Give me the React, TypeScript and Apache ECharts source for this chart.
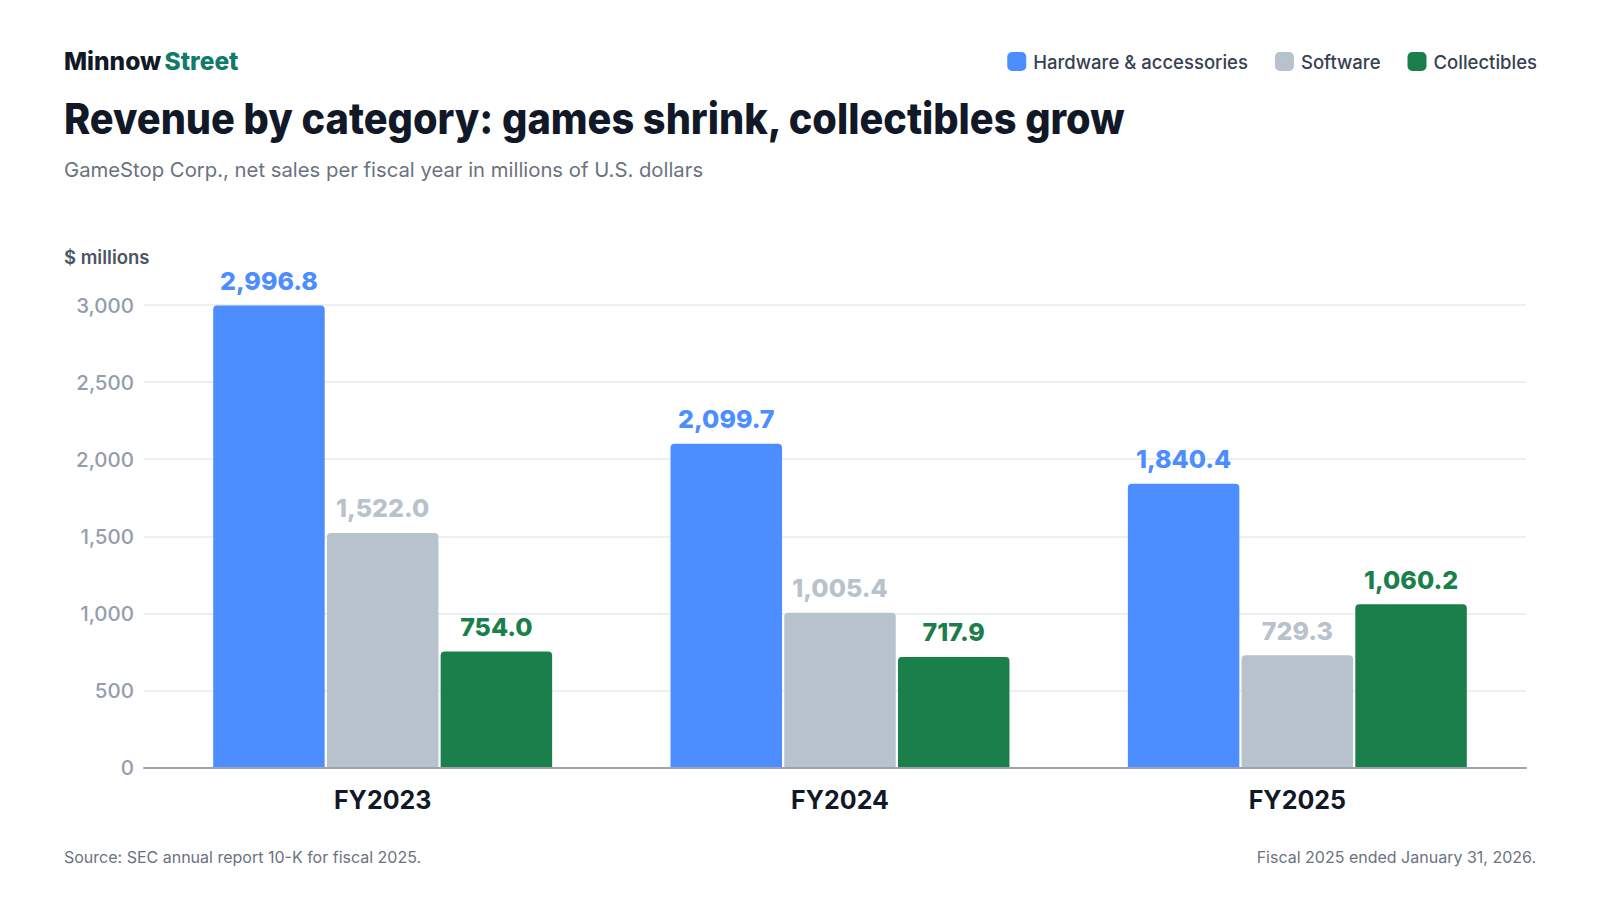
import React, { useEffect, useRef } from "react";
import * as echarts from "echarts";

const categories = ["FY2023", "FY2024", "FY2025"];
const seriesNames = ["Hardware & accessories", "Software", "Collectibles"];
const hardware = [2996.8, 2099.7, 1840.4];
const software = [1522.0, 1005.4, 729.3];
const collectibles = [754.0, 717.9, 1060.2];
const yTicks = [0, 500, 1000, 1500, 2000, 2500, 3000];

const COLORS = ["#4C8DFF", "#B8C2CC", "#1B7F4C"];
const FONT = "Inter, 'Noto Sans', sans-serif";

const fmt1 = (v: number) =>
  v.toLocaleString("en-US", { minimumFractionDigits: 1, maximumFractionDigits: 1 });

export default function App() {
  const ref = useRef<HTMLDivElement>(null);
  useEffect(() => {
    if (!ref.current) return;
    const chart = echarts.init(ref.current, undefined, { renderer: "svg" });
    const seriesData = [hardware, software, collectibles];
    const gridTop = 305;
    const gridBottom = 132.3;
    chart.setOption({
      animation: false,
      backgroundColor: "#ffffff",
      textStyle: { fontFamily: FONT },
      legend: {
        right: 58,
        top: 47,
        itemWidth: 19,
        itemHeight: 19,
        itemGap: 27,
        icon: "roundRect",
        data: seriesNames,
        textStyle: {
          fontFamily: FONT,
          fontSize: 18.5,
          fontWeight: 500,
          color: "#374151",
          padding: [0, 0, 0, 2],
        },
      },
      graphic: [
        {
          type: "text",
          left: 64,
          top: 48,
          style: {
            text: "{a|Minnow} {b|Street}",
            rich: {
              a: { fontFamily: FONT, fontSize: 24.5, fontWeight: 800, fill: "#111827" },
              b: { fontFamily: FONT, fontSize: 24.5, fontWeight: 800, fill: "#127A68" },
            },
          },
        },
        {
          type: "text",
          x: 64,
          y: 118,
          scaleX: 0.924,
          style: {
            text: "Revenue by category: games shrink, collectibles grow",
            fontFamily: FONT,
            fontSize: 43,
            fontWeight: 800,
            fill: "#111827",
            verticalAlign: "middle",
          },
        },
        {
          type: "text",
          x: 64,
          y: 169,
          style: {
            text: "GameStop Corp., net sales per fiscal year in millions of U.S. dollars",
            fontFamily: FONT,
            fontSize: 20.3,
            fontWeight: 400,
            fill: "#6B7280",
            verticalAlign: "middle",
          },
        },
        {
          type: "text",
          x: 64,
          y: 257,
          style: {
            text: "$ millions",
            fontFamily: FONT,
            fontSize: 18.5,
            fontWeight: 600,
            fill: "#4B5563",
            verticalAlign: "middle",
          },
        },
        {
          type: "text",
          x: 64,
          y: 857,
          style: {
            text: "Source: SEC annual report 10-K for fiscal 2025.",
            fontFamily: FONT,
            fontSize: 16,
            fill: "#6B7280",
            verticalAlign: "middle",
          },
        },
        {
          type: "text",
          x: 1536,
          y: 857,
          style: {
            text: "Fiscal 2025 ended January 31, 2026.",
            fontFamily: FONT,
            fontSize: 16,
            fill: "#6B7280",
            align: "right",
            verticalAlign: "middle",
          },
        },
      ],
      grid: [
        { left: 144, right: 74, top: gridTop, bottom: gridBottom },
        { left: 154, right: 74, top: gridTop, bottom: gridBottom },
      ],
      xAxis: [
        {
          type: "category",
          gridIndex: 0,
          data: categories,
          z: 5,
          axisLine: { show: true, lineStyle: { color: "#9CA3B0", width: 2 } },
          axisTick: { show: false },
          axisLabel: { show: false },
          splitLine: { show: false },
        },
        {
          type: "category",
          gridIndex: 1,
          data: categories,
          axisLine: { show: false },
          axisTick: { show: false },
          axisLabel: {
            margin: 20,
            fontFamily: FONT,
            fontSize: 25,
            fontWeight: 700,
            color: "#111827",
          },
        },
      ],
      yAxis: [
        {
          type: "value",
          gridIndex: 0,
          min: yTicks[0],
          max: yTicks[yTicks.length - 1],
          interval: 500,
          axisLine: { show: false },
          axisTick: { show: false },
          axisLabel: {
            margin: 10,
            fontFamily: FONT,
            fontSize: 20.5,
            fontWeight: 500,
            color: "#949DAD",
            formatter: (v: number) => v.toLocaleString("en-US"),
          },
          splitLine: { show: true, lineStyle: { color: "#E8EAEE", width: 1.5 } },
        },
        {
          type: "value",
          gridIndex: 1,
          min: yTicks[0],
          max: yTicks[yTicks.length - 1],
          interval: 500,
          show: false,
          splitLine: { show: false },
        },
      ],
      series: seriesNames.map((name, i) => ({
        name,
        type: "bar",
        xAxisIndex: 1,
        yAxisIndex: 1,
        data: seriesData[i],
        barWidth: 111.5,
        barGap: "2%",
        itemStyle: { color: COLORS[i], borderRadius: [4, 4, 0, 0] },
        label: {
          show: true,
          position: "top",
          distance: 12,
          fontFamily: FONT,
          fontSize: 25,
          fontWeight: 800,
          color: COLORS[i],
          formatter: (p: any) => fmt1(p.value),
        },
      })),
    });
    return () => chart.dispose();
  }, []);
  return (
    <div
      ref={ref}
      style={{ position: "fixed", left: 0, top: 0, width: 1600, height: 900, background: "#fff" }}
    />
  );
}
